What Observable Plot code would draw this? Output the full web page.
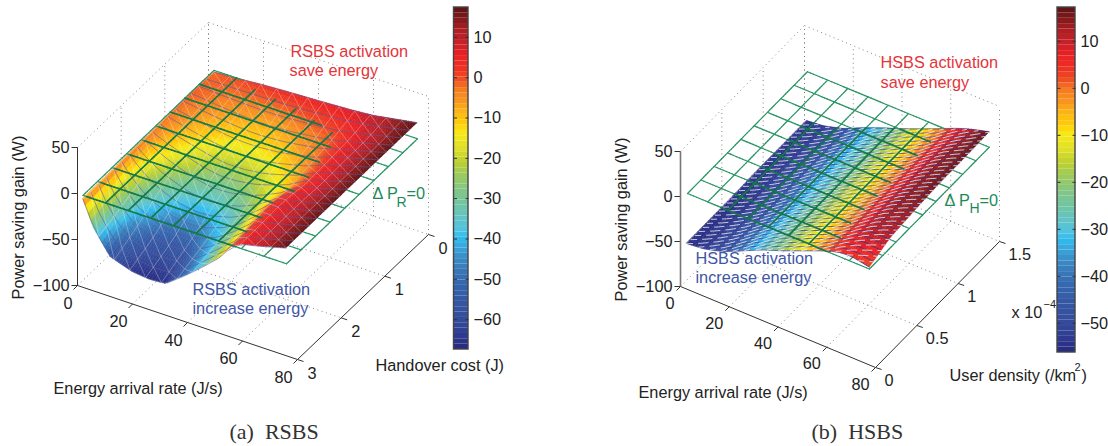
<!DOCTYPE html>
<html><head><meta charset="utf-8">
<script src="https://cdn.jsdelivr.net/npm/d3@7"></script>
<script src="https://cdn.jsdelivr.net/npm/@observablehq/plot@0.6"></script>
<style>html,body{margin:0;padding:0;background:#fff}#row{display:flex;width:1108px;height:446px}svg{display:block}</style>
</head><body><div id="row"></div>
<script>
// ---------- values ----------
const rsbsRate = [2,6,12,20,26,32,40,46,52,56,60,66,76];
const rsbsCost = [0,0.5,1,1.5,2,2.5,3];
const rsbsGainC00 = [-2,-1,0,2,3,4,5,6,7,8,9,12,17];
const rsbsGainC05 = [-1,-2,-4,-6,-7,-7,-5,-3,-1,2,5,9,17];
const rsbsGainC10 = [-2,-5,-9,-13,-15,-15,-13,-9,-5,-1,4,9,17];
const rsbsGainC15 = [-3,-9,-16,-24,-28,-28,-24,-18,-11,-3,3,8,17];
const rsbsGainC20 = [-3,-16,-30,-40,-43,-42,-35,-25,-9,2,6,9,17];
const rsbsGainC25 = [-4,-25,-45,-55,-57,-55,-42,-28,-14,0,5,9,17];
const rsbsGainC30 = [-4,-32,-57,-65,-67,-66,-48,-33,-17,-2,5,9,17];
const hsbsRate = [1,8,16,24,32,40,48,56,62,68,76];
const hsbsDensity = [0.05,0.3,0.6,0.9,1.2,1.5];
const hsbsGainD005 = [-56,-54,-48,-38,-28,-20,-11,-2,4,6,2];
const hsbsGainD030 = [-56,-54,-48,-38,-28,-20,-11,-2,5,11,11];
const hsbsGainD060 = [-56,-54,-48,-38,-28,-20,-11,-2,6,13,14];
const hsbsGainD090 = [-55,-53,-47,-37,-28,-20,-11,-2,6,13,16];
const hsbsGainD120 = [-55,-53,-47,-37,-28,-20,-11,-2,6,13,16];
const hsbsGainD150 = [-55,-53,-47,-37,-28,-20,-11,-2,5,11,17];
const colorStops = [0,.04,.09,.15,.19,.23,.27,.3,.325,.35,.385,.42,.46,.51,.55,.585,.63,.66,.69,.72,.76,.79,.82,.86,.9,.93,.96,1];
const colorValues = ["#262a7e","#2e3a90","#344d9c","#3558a5","#3565ae","#3878b8","#3a8fc9","#3ba6dc","#2ebcee","#4fc3e0","#63c4c5","#6fc5a4","#7fc68a","#9dca5c","#bed12f","#dcdf2a","#f6ea16","#ffcc08","#fdb913","#f89a1e","#f57b20","#ee4e23","#ee3324","#ec2024","#c4202a","#b01e24","#8a1a1c","#5a1214"];
const rateTicks = [0,20,40,60,80];
const gainTicks = [50,0,-50,-100];
const costTicks = [0,1,2,3];
const densityTicks = [0,0.5,1,1.5];
const rsbsBarTicks = [10,0,-10,-20,-30,-40,-50,-60];
const hsbsBarTicks = [10,0,-10,-20,-30,-40,-50];

const INK = "#222", GREEN = "#1f8a58", RED = "#e5343a", BLUE = "#4156a6", FONT = "Liberation Sans";
const minus = v => String(v).replace("-", "\u2212");

function bilinear(xs, ys, table, x, y) {
  const cl = (a, v) => Math.max(a[0], Math.min(a[a.length - 1], v));
  x = cl(xs, x); y = cl(ys, y);
  const i = Math.min(xs.length - 2, Math.max(0, d3.bisectRight(xs, x) - 1));
  const j = Math.min(ys.length - 2, Math.max(0, d3.bisectRight(ys, y) - 1));
  const u = (x - xs[i]) / (xs[i + 1] - xs[i]), w = (y - ys[j]) / (ys[j + 1] - ys[j]);
  return (table[j][i] * (1 - u) + table[j][i + 1] * u) * (1 - w) + (table[j + 1][i] * (1 - u) + table[j + 1][i + 1] * u) * w;
}
const steps = (a, b, n) => d3.range(n + 1).map(i => a + (b - a) * i / n);

function panel(c) {
  const P = (x, y, z) => {
    const f = c.yFrac(y);
    return [c.ox + c.xdx * x / 80 + c.ydx * f, c.oy + c.xdy * x / 80 + c.ydy * f - c.zs * (z + 100)];
  };
  const Z = (x, y) => bilinear(c.xs, c.ys, c.table, x, y);
  const seg = (a, b, extra) => ({x1: a[0], y1: a[1], x2: b[0], y2: b[1], ...extra});
  const [yFar, yNear] = c.yFar;
  const xmin = c.xs[0], xmax = c.xs[c.xs.length - 1];
  const ymin = c.ys[0], ymax = c.ys[c.ys.length - 1];

  // is a point of the page covered by the surface?
  const det = c.xdx * c.ydy - c.ydx * c.xdy;
  const covered = (sx, sy) => {
    let z = 0, x = 0, y = 0;
    for (let k = 0; k < 14; k++) {
      const a = sx - c.ox, b = sy - (c.oy - c.zs * (z + 100));
      x = 80 * (a * c.ydy - c.ydx * b) / det;
      y = c.yInv((c.xdx * b - c.xdy * a) / det);
      z = 0.5 * z + 0.5 * Z(x, y);
    }
    return x >= xmin && x <= xmax && y >= ymin && y <= ymax;
  };

  // dotted box
  const dots = [];
  dots.push(seg(P(0, yNear, 50), P(0, yFar, 50)), seg(P(0, yFar, 50), P(80, yFar, 50)));
  dots.push(seg(P(0, yNear, -100), P(0, yFar, -100)), seg(P(0, yFar, -100), P(80, yFar, -100)));
  for (const t of rateTicks) {
    dots.push(seg(P(t, yFar, -100), P(t, yFar, 50)));
    if (t > 0 && t < 80) dots.push(seg(P(t, yNear, -100), P(t, yFar, -100)));
  }
  for (const t of c.yTicks) {
    dots.push(seg(P(0, t, -100), P(0, t, 50)));
    if (t !== yFar && t !== yNear) dots.push(seg(P(0, t, -100), P(80, t, -100)));
  }

  // axes
  const axes = [seg(P(0, yNear, -100), P(80, yNear, -100)), seg(P(80, yNear, -100), P(80, yFar, -100))];
  const tickOff = (p, dx, dy) => seg(p, [p[0] + dx, p[1] + dy]);
  for (const t of rateTicks) axes.push(tickOff(P(t, yNear, -100), -4, 4));
  for (const t of c.yTicks) axes.push(tickOff(P(80, t, -100), 6, 2));
  for (const t of gainTicks) axes.push(tickOff(P(0, yNear, t), -6, 0));
  const zAxis = [seg(P(0, yNear, -100), P(0, yNear, 50))];

  // surface shading quads
  const quads = [];
  const nx = c.shade[0], ny = c.shade[1];
  const gx = steps(xmin, xmax, nx);
  const gy = steps(c.yOrder[0], c.yOrder[1], ny);
  let id = 0;
  for (let j = 0; j < ny; j++) for (let i = 0; i < nx; i++) {
    const zz = [[gx[i], gy[j]], [gx[i], gy[j + 1]], [gx[i + 1], gy[j]], [gx[i + 1], gy[j + 1]]].map(q => P(q[0], q[1], Z(q[0], q[1])));
    const v = Z((gx[i] + gx[i + 1]) / 2, (gy[j] + gy[j + 1]) / 2);
    quads.push({id, v, x1: zz[0][0], y1: zz[0][1], x2: zz[1][0], y2: zz[1][1]});
    quads.push({id, v, x1: zz[2][0], y1: zz[2][1], x2: zz[3][0], y2: zz[3][1]});
    id++;
  }

  // surface mesh
  const polyl = (fn, n) => { const out = []; let a = fn(0); for (let k = 1; k <= n; k++) { const t = k / n, b = fn(t); out.push(seg(a, b)); a = b; } return out; };
  const onS = (x, y) => P(x, y, Z(x, y));
  const meshX = [], meshW = [], meshD = [];
  const mx = steps(xmin, xmax, c.mesh[0]), my = steps(ymin, ymax, c.mesh[1]);
  for (const y of my) meshX.push(...polyl(t => onS(xmin + (xmax - xmin) * t, y), 24));
  for (const x of mx) meshW.push(...polyl(t => onS(x, ymin + (ymax - ymin) * t), 16));
  const dxM = (xmax - xmin) / c.mesh[0], dyM = (ymax - ymin) / c.mesh[1];
  for (let k = -c.mesh[1]; k <= c.mesh[0]; k++) {
    const pts = [];
    for (let m = 0; m <= c.mesh[1]; m++) {
      const x = xmin + (k + m) * dxM, y = ymin + m * dyM;
      if (x >= xmin - 1e-6 && x <= xmax + 1e-6) pts.push([x, y]);
    }
    for (let m = 0; m + 1 < pts.length; m++) {
      const a = pts[m], b = pts[m + 1];
      meshD.push(seg(onS(a[0], a[1]), onS(b[0], b[1])));
    }
  }

  // zero plane: under the surface where the surface is above zero, over it elsewhere
  const under = [], overOn = [], overOff = [];
  const px = steps(c.plane[0], c.plane[1], 9), py = steps(c.plane[2], c.plane[3], 9);
  const planeSeg = (fn) => {
    const n = 60;
    for (let k = 0; k < n; k++) {
      const a = fn(k / n), b = fn((k + 1) / n), m = fn((k + 0.5) / n);
      const s = seg(P(a[0], a[1], 0), P(b[0], b[1], 0));
      if (Z(m[0], m[1]) > 0) under.push(s);
      else {
        const q = P(m[0], m[1], 0);
        (covered(q[0], q[1]) ? overOn : overOff).push(s);
      }
    }
  };
  for (const x of px) planeSeg(t => [x, c.plane[2] + (c.plane[3] - c.plane[2]) * t]);
  for (const y of py) planeSeg(t => [c.plane[0] + (c.plane[1] - c.plane[0]) * t, y]);

  // colour bar
  const cb = c.bar;
  const vy = d3.scaleLinear().domain([cb.v0, cb.v1]).range([cb.y0, cb.y1]);
  const levels = d3.range(64).map(i => {
    const a = cb.v0 + (cb.v1 - cb.v0) * i / 64, b = cb.v0 + (cb.v1 - cb.v0) * (i + 1) / 64;
    return {x1: cb.x0, x2: cb.x1, y1: vy(a), y2: vy(b), v: (a + b) / 2};
  });
  const barTicks = c.barTicks.flatMap(t => [seg([cb.x0, vy(t)], [cb.x0 + 3, vy(t)]), seg([cb.x1 - 3, vy(t)], [cb.x1, vy(t)])]);

  // texts
  const texts = [];
  const T = (x, y, text, o = {}) => texts.push({x, y, text, anchor: "start", fill: INK, size: 16.3, ...o});
  for (const t of gainTicks) T(c.zLabelX, P(0, yNear, t)[1], minus(t), {anchor: "end"});
  for (const t of rateTicks) { const p = P(t, yNear, -100); T(p[0] - c.xOff[0], p[1] + c.xOff[1], String(t), {anchor: "end"}); }
  for (const t of c.yTicks) { const p = P(80, t, -100); T(p[0] + c.yOff[0], p[1] + c.yOff[1], String(t)); }
  for (const t of c.barTicks) T(cb.x1 + 5, vy(t), minus(t));
  for (const a of c.labels) T(...a);

  const colorDomain = colorStops.map(t => cb.v0 + (cb.v1 - cb.v0) * t);
  const link = (data, o) => Plot.link(data, {x1: "x1", y1: "y1", x2: "x2", y2: "y2", ...o});
  const textMark = (data, anchor, font = FONT) => Plot.text(data, {x: "x", y: "y", text: "text", fill: "fill", fontSize: "size", fontFamily: font, textAnchor: anchor, lineAnchor: "middle", rotate: d => d.rotate || 0});
  const ms = c.meshStyle;

  return Plot.plot({
    width: c.width, height: 446, marginTop: 0, marginBottom: 0, marginLeft: 0, marginRight: 0,
    x: {domain: [c.left, c.left + c.width], range: [0, c.width], axis: null},
    y: {domain: [0, 446], range: [0, 446], axis: null},
    color: {type: "linear", domain: colorDomain, range: colorValues, clamp: true},
    style: {fontFamily: FONT, background: "#fff"},
    marks: [
      link(dots, {stroke: "#777", strokeWidth: 0.9, strokeDasharray: "1 3.5"}),
      link(under, {stroke: "#2c9567", strokeWidth: 1.2, strokeLinecap: "round"}),
      Plot.area(quads, {x1: "x1", y1: "y1", x2: "x2", y2: "y2", z: "id", fill: "v", stroke: "v", strokeWidth: 0.5}),
      link(meshX, {stroke: ms.xColor, strokeOpacity: ms.xOpacity, strokeWidth: ms.xWidth}),
      link(meshW, {stroke: "#fff", strokeOpacity: ms.wOpacity, strokeWidth: 0.7}),
      link(meshD, {stroke: "#fff", strokeOpacity: ms.dOpacity, strokeWidth: ms.dWidth, strokeDasharray: ms.dDash}),
      link(overOff, {stroke: "#2c9567", strokeWidth: 1.2, strokeLinecap: "round"}),
      link(overOn, {stroke: "#15794a", strokeWidth: 1.6, strokeLinecap: "round"}),
      link(axes, {stroke: "#333", strokeWidth: 1}),
      link(zAxis, {stroke: c.zAxisColor, strokeWidth: c.zAxisWidth}),
      Plot.rect(levels, {x1: "x1", x2: "x2", y1: "y1", y2: "y2", fill: "v"}),
      Plot.rect([{}], {x1: cb.x0, x2: cb.x1, y1: cb.y0, y2: cb.y1, fill: "none", stroke: "#444", strokeWidth: 1.4}),
      link(barTicks, {stroke: "#333", strokeWidth: 1}),
      textMark(texts.filter(d => d.anchor === "start"), "start"),
      textMark(texts.filter(d => d.anchor === "end"), "end"),
      textMark(texts.filter(d => d.anchor === "middle"), "middle"),
      textMark(texts.filter(d => d.anchor === "serif"), "start", "Liberation Serif")
    ]
  });
}

const left = panel({
  left: 0, width: 554,
  xs: rsbsRate, ys: rsbsCost,
  table: [rsbsGainC00, rsbsGainC05, rsbsGainC10, rsbsGainC15, rsbsGainC20, rsbsGainC25, rsbsGainC30],
  yFrac: h => (3 - h) / 3, yInv: f => 3 - 3 * f, yFar: [0, 3], yTicks: costTicks, yOrder: [0, 3],
  ox: 77, oy: 285, xdx: 220, xdy: 74, ydx: 131, ydy: -125, zs: 0.92,
  plane: [2, 76, 0, 3], shade: [74, 45], mesh: [13, 17],
  meshStyle: {xColor: "#5b5aa0", xOpacity: 0.65, xWidth: 0.9, wOpacity: 0.4, dOpacity: 0.4, dWidth: 0.7},
  zAxisColor: "#333", zAxisWidth: 1,
  zLabelX: 69, xOff: [5, 18], yOff: [10, 14],
  bar: {x0: 453.5, x1: 468, y0: 349, y1: 7, v0: -67.4, v1: 17.4},
  barTicks: rsbsBarTicks,
  labels: [
    [18, 217, "Power saving gain (W)", {anchor: "middle", rotate: -90}],
    [53, 388, "Energy arrival rate (J/s)"],
    [375, 365, "Handover cost (J)"],
    [290, 51, "RSBS activation", {fill: RED}],
    [289, 70, "save energy", {fill: RED}],
    [192, 289, "RSBS activation", {fill: BLUE}],
    [192, 308, "increase energy", {fill: BLUE}],
    [372, 193, "\u0394 P", {fill: GREEN}],
    [396, 202, "R", {fill: GREEN, size: 14}],
    [406, 193, "=0", {fill: GREEN}],
    [229, 431, "(a)\u00a0 RSBS", {anchor: "serif", size: 22, fill: "#333"}]
  ]
});

const right = panel({
  left: 554, width: 554,
  xs: hsbsRate, ys: hsbsDensity,
  table: [hsbsGainD005, hsbsGainD030, hsbsGainD060, hsbsGainD090, hsbsGainD120, hsbsGainD150],
  yFrac: d => d / 1.5, yInv: f => 1.5 * f, yFar: [1.5, 0], yTicks: densityTicks, yOrder: [1.5, 0.05],
  ox: 680, oy: 286, xdx: 195, xdy: 81, ydx: 124, ydy: -126, zs: 0.9,
  plane: [1.2, 75.8, 0.05, 1.5], shade: [72, 44], mesh: [16, 30],
  meshStyle: {xColor: "#2f3590", xOpacity: 0.8, xWidth: 0.9, wOpacity: 0.15, dOpacity: 0.8, dWidth: 0.9, dDash: "6 5"},
  zAxisColor: "#777", zAxisWidth: 1.6,
  zLabelX: 672, xOff: [6, 17], yOff: [9, 13],
  bar: {x0: 1057, x1: 1075, y0: 352, y1: 7, v0: -56.2, v1: 17.2},
  barTicks: hsbsBarTicks,
  labels: [
    [621, 219, "Power saving gain (W)", {anchor: "middle", rotate: -90}],
    [638, 392, "Energy arrival rate (J/s)"],
    [949, 375, "User density (/km"],
    [1074, 367, "2", {size: 11}],
    [1081, 375, ")"],
    [1011, 312, "x 10"],
    [1043, 304, "\u22124", {size: 11}],
    [880, 62, "HSBS activation", {fill: RED}],
    [880, 82, "save energy", {fill: RED}],
    [695, 258, "HSBS activation", {fill: BLUE}],
    [695, 277, "increase energy", {fill: BLUE}],
    [944, 200, "\u0394 P", {fill: GREEN}],
    [969, 208, "H", {fill: GREEN, size: 14}],
    [979, 200, "=0", {fill: GREEN}],
    [811, 431, "(b)\u00a0 HSBS", {anchor: "serif", size: 22, fill: "#333"}]
  ]
});
document.getElementById("row").append(left, right);
</script></body></html>
